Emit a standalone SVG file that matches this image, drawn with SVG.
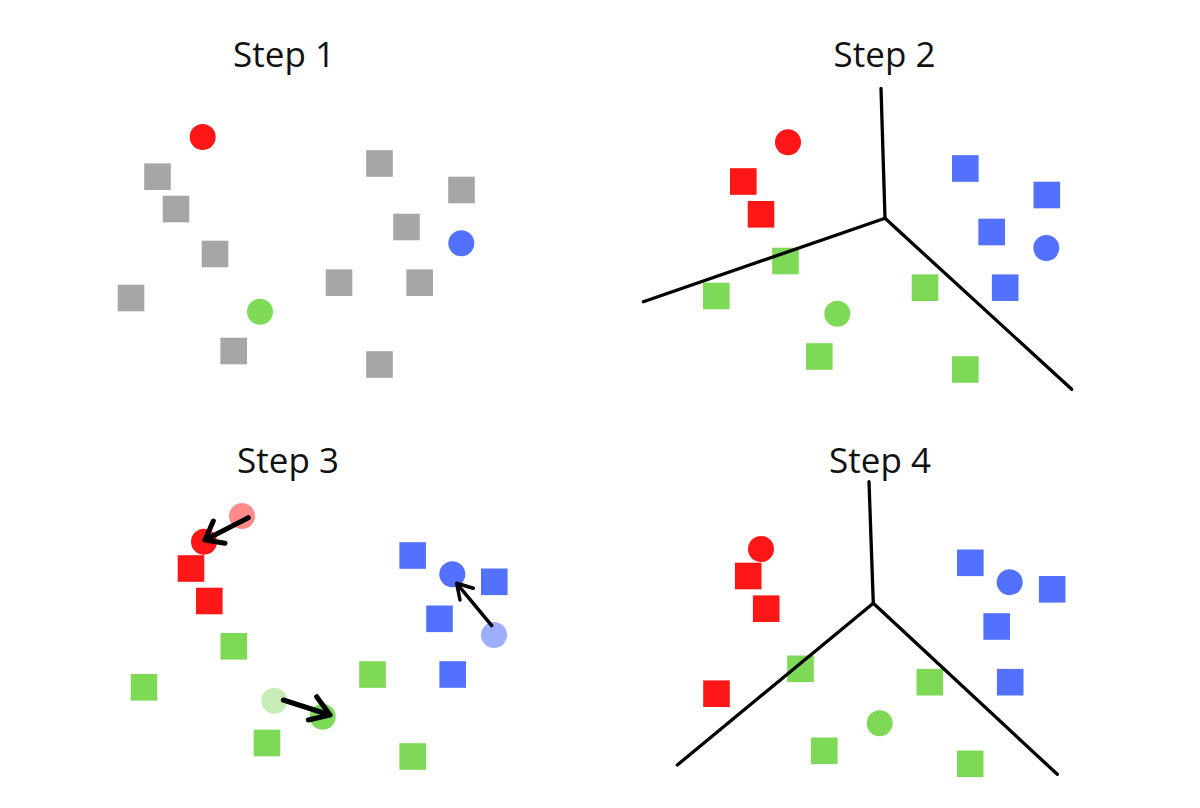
<svg xmlns="http://www.w3.org/2000/svg" width="1200" height="808" viewBox="0 0 1200 808">
<style>
.t{font-family:"Open Sans","Noto Sans",sans-serif;font-size:35px;fill:#111;text-anchor:middle}
.g{fill:#A6A6A6}.r{fill:#FF1616}.b{fill:#5271FF}.gr{fill:#7ED957}
.rf{fill:#FF8A8A}.bf{fill:#9BAEFF}.gf{fill:#C5EDB5}
.ln{fill:none;stroke:#000;stroke-width:3.3;stroke-linecap:round;stroke-linejoin:round}
.ar{fill:none;stroke:#000;stroke-width:5;stroke-linecap:round;stroke-linejoin:round}
</style>
<defs>
<rect id="sq" x="-13.3" y="-13.3" width="26.6" height="26.6"/>
</defs>
<rect width="1200" height="808" fill="#fff"/>

<g id="step1">
<text class="t" x="284" y="67">Step 1</text>
<g class="g">
<use href="#sq" x="157.5" y="176.7"/>
<use href="#sq" x="176" y="209"/>
<use href="#sq" x="215" y="254"/>
<use href="#sq" x="131" y="298"/>
<use href="#sq" x="233.7" y="351"/>
<use href="#sq" x="379.5" y="163.5"/>
<use href="#sq" x="461.5" y="190"/>
<use href="#sq" x="406.5" y="227"/>
<use href="#sq" x="339" y="282.7"/>
<use href="#sq" x="419.7" y="282.7"/>
<use href="#sq" x="379.5" y="364.5"/>
</g>
<circle class="r" cx="202.7" cy="137" r="13"/>
<circle class="b" cx="461.3" cy="243.3" r="13"/>
<circle class="gr" cx="260" cy="311.7" r="13"/>
</g>

<g id="step2">
<text class="t" x="884.5" y="67">Step 2</text>
<g class="r">
<use href="#sq" x="743.3" y="181.5"/>
<use href="#sq" x="761" y="214.3"/>
</g>
<g class="gr">
<use href="#sq" x="785.5" y="261"/>
<use href="#sq" x="716.3" y="296"/>
<use href="#sq" x="819.3" y="356.5"/>
<use href="#sq" x="925" y="287.7"/>
<use href="#sq" x="965.3" y="369.5"/>
</g>
<g class="b">
<use href="#sq" x="965.3" y="168.5"/>
<use href="#sq" x="1046.8" y="195"/>
<use href="#sq" x="991.7" y="232"/>
<use href="#sq" x="1005.2" y="287.7"/>
</g>
<circle class="r" cx="788" cy="142.3" r="13"/>
<circle class="gr" cx="837.3" cy="313.7" r="13"/>
<circle class="b" cx="1046.3" cy="248" r="13"/>
</g>

<g id="step3">
<text class="t" x="288" y="473">Step 3</text>
<g class="r">
<use href="#sq" x="191" y="568.5"/>
<use href="#sq" x="209.3" y="601"/>
</g>
<g class="gr">
<use href="#sq" x="233.8" y="646.3"/>
<use href="#sq" x="144" y="687.3"/>
<use href="#sq" x="267" y="743"/>
<use href="#sq" x="372.5" y="674.5"/>
<use href="#sq" x="412.7" y="756.5"/>
</g>
<g class="b">
<use href="#sq" x="412.7" y="555.5"/>
<use href="#sq" x="494.3" y="581.8"/>
<use href="#sq" x="439.5" y="618.8"/>
<use href="#sq" x="452.7" y="674.5"/>
</g>
<circle class="rf" cx="242" cy="516" r="13"/>
<circle class="r" cx="204" cy="541.7" r="13"/>
<circle class="gf" cx="274.3" cy="700.7" r="13"/>
<circle class="gr" cx="322.7" cy="716.7" r="13"/>
<circle class="bf" cx="494" cy="635" r="13"/>
<circle class="b" cx="452.3" cy="574.3" r="13"/>
</g>

<g id="step4">
<text class="t" x="880" y="473">Step 4</text>
<g class="r">
<use href="#sq" x="748.2" y="576"/>
<use href="#sq" x="766.2" y="608.7"/>
<use href="#sq" x="716.5" y="693.7"/>
</g>
<g class="gr">
<use href="#sq" x="800.5" y="668.8"/>
<use href="#sq" x="929.8" y="682.2"/>
<use href="#sq" x="824.3" y="750.8"/>
<use href="#sq" x="970.2" y="763.8"/>
</g>
<g class="b">
<use href="#sq" x="970.3" y="562.8"/>
<use href="#sq" x="1052.2" y="589.3"/>
<use href="#sq" x="996.7" y="626.5"/>
<use href="#sq" x="1010.2" y="682.2"/>
</g>
<circle class="r" cx="761" cy="549" r="13"/>
<circle class="gr" cx="879.7" cy="723.3" r="13"/>
<circle class="b" cx="1009.7" cy="582.3" r="13"/>
</g>

<g id="connectors">
<path class="ln" d="M881 88.3 L885 218.3"/>
<path class="ln" d="M885 218.3 L643.3 301.7"/>
<path class="ln" d="M885 218.3 L1071.7 389.3"/>
<path class="ln" d="M869 481.7 L873.3 603.3"/>
<path class="ln" d="M873.3 603.3 L677.3 765"/>
<path class="ln" d="M873.3 603.3 L1057.3 774.3"/>
<path class="ar" d="M248.3 517.7 L205 540 M213.3 521 L205 540 L225 543.3"/>
<path class="ar" d="M283.3 700 L330 715 M316.7 696.7 L330 715 L308.3 720"/>
<path class="ar" style="stroke-width:3.5" d="M491.7 625.7 L456.7 583.3 M460 600 L456.7 583.3 L473.3 588.3"/>
</g>
</svg>
